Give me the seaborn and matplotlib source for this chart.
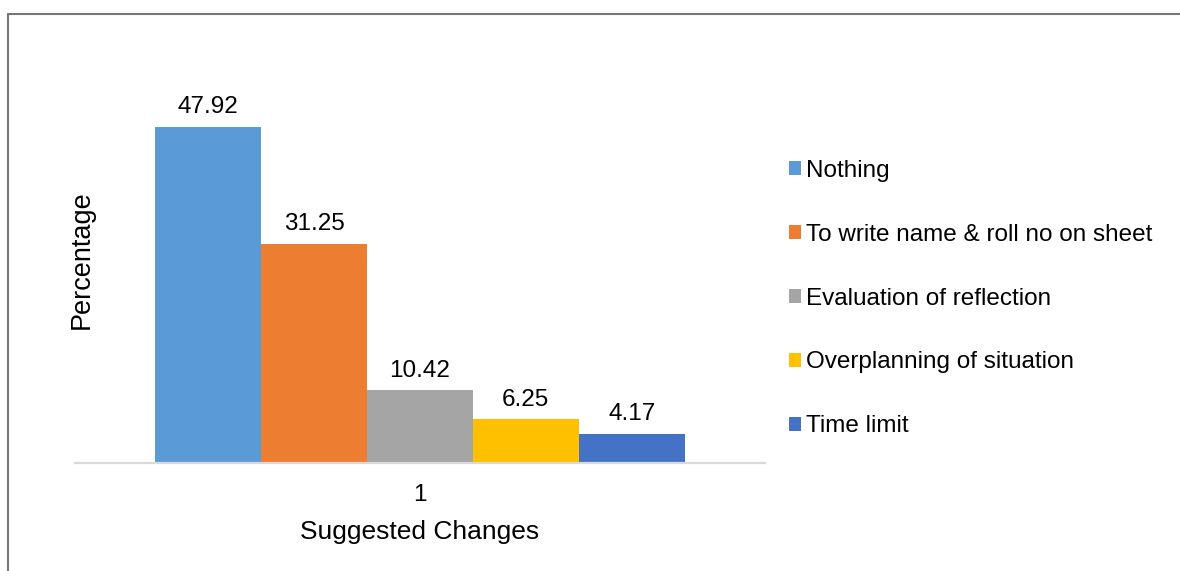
import matplotlib
matplotlib.use("Agg")
import matplotlib.pyplot as plt
import seaborn as sns
import pandas as pd
from matplotlib.lines import Line2D
from matplotlib.patches import Patch

# Data
groups = ['1']
categories = ['Nothing', 'To write name & roll no on sheet', 'Evaluation of reflection',
              'Overplanning of situation', 'Time limit']
values = [47.92, 31.25, 10.42, 6.25, 4.17]
colors = ['#5B9BD5', '#ED7D31', '#A5A5A5', '#FFC000', '#4472C4']

sns.set_style("white")
plt.rcParams['font.family'] = ['Liberation Sans', 'DejaVu Sans']
plt.rcParams['text.color'] = 'black'
plt.rcParams['axes.labelcolor'] = 'black'
plt.rcParams['xtick.color'] = 'black'

df = pd.DataFrame({'group': groups * len(categories),
                   'category': categories,
                   'value': values})

W, H = 1180, 571
fig = plt.figure(figsize=(W / 100, H / 100), dpi=100)
ax_l, ax_r, ax_b, ax_t = 75, 765, 463, 77
ax = fig.add_axes([ax_l / W, 1 - ax_b / H, (ax_r - ax_l) / W, (ax_b - ax_t) / H])

sns.barplot(data=df, x='group', y='value', hue='category', hue_order=categories,
            palette=colors, saturation=1, width=0.767, ax=ax, legend=False,
            linewidth=0, edgecolor='none')

for cont in ax.containers:
    ax.bar_label(cont, fmt='%.2f', padding=6, fontsize=17.5, color='black')

ax.set_ylim(0, 55)
ax.set_xlim(-0.5, 0.5)
ax.set_yticks([])
for s in ['top', 'right', 'left']:
    ax.spines[s].set_visible(False)
ax.spines['bottom'].set_color('#d9d9d9')
ax.spines['bottom'].set_linewidth(1.6)
ax.tick_params(axis='x', length=0, pad=15, labelsize=17.5)

ax.set_xlabel('Suggested Changes', fontsize=19, labelpad=10)
ax.set_ylabel('Percentage', fontsize=19.5)
ax.yaxis.set_label_coords(0.028, 0.528)

# legend
handles = [Patch(facecolor=c, edgecolor='none') for c in colors]
fig.legend(handles, categories, loc='upper left', bbox_to_anchor=(789 / W, 1 - 160 / H),
           frameon=False, fontsize=17.5, handlelength=0.5, handleheight=0.5,
           handletextpad=0.2, labelspacing=1.72, borderpad=0, borderaxespad=0)

# chart border (top and left)
fig.add_artist(Line2D([7.5 / W, 1.0], [1 - 13.5 / H, 1 - 13.5 / H], color='#767676', lw=1.5))
fig.add_artist(Line2D([7.5 / W, 7.5 / W], [0.0, 1 - 13.5 / H], color='#767676', lw=1.5))

fig.savefig('out.png', dpi=100)
